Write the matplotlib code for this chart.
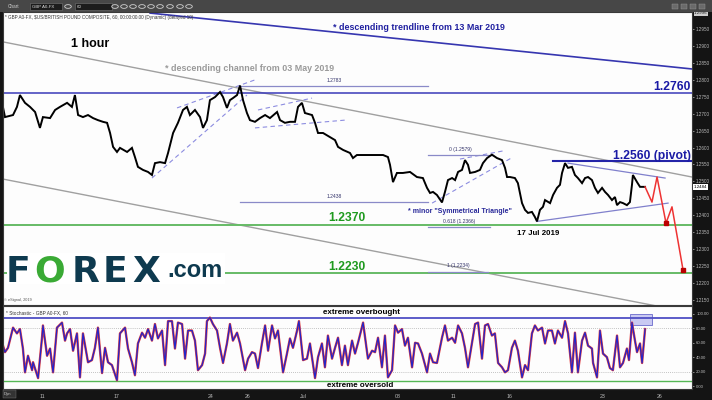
import numpy as np
import matplotlib
matplotlib.use('Agg')
import matplotlib.pyplot as plt
from matplotlib.patches import Rectangle
from matplotlib.ticker import FormatStrFormatter

plt.rcParams['font.family'] = ['Liberation Sans', 'DejaVu Sans']

# x axis = trading days counted from 11 Jun 2019 (hourly GBP/USD)
tick_days = [0, 4, 9, 11, 14, 19, 22, 25, 30, 33]
tick_labels = ['11', '17', '24', '26', 'Jul', '08', '11', '16', '23', '26']

price_day = [-2.09, -1.98, -1.55, -1.34, -1.18, -0.91, -0.64, -0.37, -0.11, 0.05,
             0.43, 0.70, 0.96, 1.34, 1.60, 1.76, 1.93, 2.19, 2.46, 2.73,
             2.99, 3.26, 3.48, 3.64, 3.80, 4.01, 4.17, 4.55, 4.81, 4.97,
             5.13, 5.40, 5.67, 5.88, 6.04, 6.31, 6.58, 6.74, 7.01, 7.27,
             7.54, 7.75, 7.91, 8.18, 8.45, 8.61, 8.82, 8.98, 9.25, 9.52,
             9.68, 9.89, 10.05, 10.21, 10.43, 10.59, 10.75, 10.96, 11.12, 11.39,
             11.66, 11.93, 12.19, 12.57, 12.73, 12.99, 13.26, 13.53, 13.69, 13.90,
             14.06, 14.44, 14.60, 14.76, 15.03, 15.40, 15.67, 15.83, 16.10, 16.47,
             16.63, 16.84, 17.17, 17.70, 18.24, 18.50, 18.61, 18.72, 18.77, 18.98,
             19.30, 19.68, 20.05, 20.37, 20.59, 20.75, 20.91, 21.12, 21.39, 21.55,
             21.71, 21.93, 22.09, 22.25, 22.46, 22.62, 22.78, 22.89, 23.16, 23.42,
             23.58, 23.80, 24.06, 24.33, 24.60, 24.76, 24.87, 25.03, 25.29, 25.45,
             25.67, 25.83, 25.99, 26.20, 26.36, 26.47, 26.63, 26.79, 26.90, 27.17,
             27.33, 27.54, 27.70, 27.81, 27.97, 28.13, 28.34, 28.50, 28.66, 28.88,
             29.04, 29.20, 29.41, 29.57, 29.73, 29.95, 30.11, 30.27, 30.48, 30.64,
             30.75, 30.91, 31.07, 31.28, 31.44, 31.55, 31.60, 31.82, 31.98, 32.25]
price_val = [1.2720, 1.2690, 1.2696, 1.2720, 1.2755, 1.2732, 1.2720, 1.2705, 1.2658, 1.2690,
             1.2687, 1.2711, 1.2720, 1.2732, 1.2720, 1.2755, 1.2696, 1.2690, 1.2696, 1.2687,
             1.2681, 1.2676, 1.2673, 1.2643, 1.2602, 1.2587, 1.2599, 1.2587, 1.2599, 1.2572,
             1.2543, 1.2534, 1.2528, 1.2519, 1.2554, 1.2557, 1.2554, 1.2584, 1.2643, 1.2673,
             1.2711, 1.2720, 1.2696, 1.2711, 1.2690, 1.2658, 1.2681, 1.2740, 1.2749, 1.2764,
             1.2749, 1.2717, 1.2740, 1.2746, 1.2755, 1.2783, 1.2740, 1.2702, 1.2681, 1.2676,
             1.2687, 1.2696, 1.2687, 1.2705, 1.2681, 1.2673, 1.2676, 1.2676, 1.2720, 1.2732,
             1.2702, 1.2696, 1.2673, 1.2643, 1.2643, 1.2631, 1.2622, 1.2602, 1.2593, 1.2584,
             1.2569, 1.2578, 1.2578, 1.2578, 1.2578, 1.2572, 1.2549, 1.2513, 1.2498, 1.2525,
             1.2525, 1.2528, 1.2513, 1.2510, 1.2481, 1.2466, 1.2469, 1.2460, 1.2438, 1.2469,
             1.2504, 1.2510, 1.2504, 1.2528, 1.2534, 1.2563, 1.2549, 1.2525, 1.2528, 1.2534,
             1.2554, 1.2569, 1.2579, 1.2569, 1.2563, 1.2540, 1.2513, 1.2513, 1.2510, 1.2495,
             1.2436, 1.2416, 1.2407, 1.2410, 1.2395, 1.2382, 1.2416, 1.2425, 1.2445, 1.2436,
             1.2460, 1.2481, 1.2490, 1.2525, 1.2554, 1.2540, 1.2543, 1.2519, 1.2510, 1.2495,
             1.2510, 1.2513, 1.2504, 1.2481, 1.2466, 1.2481, 1.2469, 1.2460, 1.2445, 1.2454,
             1.2430, 1.2439, 1.2436, 1.2430, 1.2439, 1.2490, 1.2519, 1.2498, 1.2484, 1.2484]
last_price = 1.2484

stoch_day = [-2.25, -1.98, -1.82, -1.55, -1.34, -1.18, -1.02, -0.91, -0.75, -0.53,
             -0.48, -0.21, 0.00, 0.05, 0.27, 0.43, 0.59, 0.80, 1.07, 1.23,
             1.34, 1.50, 1.66, 1.87, 2.03, 2.19, 2.46, 2.67, 2.83, 2.99,
             3.21, 3.37, 3.53, 3.74, 4.01, 4.17, 4.44, 4.60, 4.81, 4.97,
             5.13, 5.35, 5.51, 5.67, 5.88, 6.04, 6.20, 6.42, 6.58, 6.74,
             6.95, 7.11, 7.27, 7.49, 7.65, 7.81, 8.02, 8.18, 8.34, 8.56,
             8.72, 8.82, 8.98, 9.14, 9.36, 9.52, 9.68, 9.89, 10.05, 10.21,
             10.43, 10.59, 10.86, 11.02, 11.23, 11.39, 11.55, 11.76, 11.93, 12.09,
             12.30, 12.46, 12.62, 12.89, 13.10, 13.26, 13.42, 13.64, 13.74, 13.96,
             14.17, 14.33, 14.60, 14.76, 14.97, 15.13, 15.29, 15.51, 15.67, 15.83,
             16.04, 16.20, 16.36, 16.58, 16.74, 16.90, 17.17, 17.43, 17.65, 17.81,
             17.97, 18.18, 18.34, 18.50, 18.72, 18.88, 19.04, 19.25, 19.41, 19.57,
             19.79, 19.95, 20.11, 20.32, 20.59, 20.75, 20.91, 21.12, 21.39, 21.55,
             21.71, 21.93, 22.09, 22.25, 22.46, 22.62, 22.78, 22.99, 23.16, 23.32,
             23.53, 23.69, 23.85, 24.06, 24.22, 24.39, 24.60, 24.76, 24.92, 25.13,
             25.29, 25.45, 25.67, 25.83, 25.99, 26.20, 26.36, 26.52, 26.74, 26.90,
             27.06, 27.27, 27.43, 27.59, 27.81, 27.97, 28.13, 28.34, 28.50, 28.66,
             28.88, 29.04, 29.20, 29.41, 29.47, 29.68, 29.84, 30.00, 30.21, 30.37,
             30.53, 30.75, 30.91, 31.07, 31.28, 31.39, 31.55, 31.71, 31.82, 31.98,
             32.09, 32.25]
stoch_k = [70, 47, 53, 81, 73, 79, 52, 19, 42, 22,
           33, 11, 67, 84, 42, 52, 19, 81, 88, 63,
           73, 79, 49, 73, 12, 73, 33, 36, 53, 81,
           18, 53, 33, 29, 8, 73, 81, 52, 33, 15,
           59, 74, 67, 79, 63, 86, 66, 77, 29, 90,
           90, 52, 88, 86, 38, 77, 77, 63, 22, 29,
           45, 90, 95, 86, 77, 53, 32, 59, 86, 63,
           74, 59, 22, 38, 47, 45, 25, 59, 84, 49,
           84, 66, 77, 19, 45, 66, 53, 77, 90, 36,
           38, 59, 11, 40, 59, 26, 70, 38, 53, 67,
           29, 56, 29, 63, 45, 60, 88, 38, 49, 47,
           67, 26, 70, 12, 22, 84, 74, 79, 56, 67,
           26, 60, 59, 45, 19, 45, 33, 32, 67, 84,
           63, 67, 60, 84, 73, 53, 26, 59, 86, 88,
           38, 84, 86, 70, 73, 32, 26, 19, 22, 53,
           63, 49, 12, 29, 22, 73, 84, 77, 81, 59,
           77, 77, 59, 77, 67, 90, 73, 19, 74, 19,
           63, 74, 56, 52, 32, 12, 77, 45, 40, 25,
           22, 70, 26, 32, 52, 36, 88, 63, 47, 59,
           32, 79]

# analyst drawings (day, price)
trend_mar = ([5.78, 34.76], [1.2997, 1.2832])
chan_upper = ([-2.09, 34.76], [1.2912, 1.2513])
chan_lower = ([-2.09, 34.76], [1.2507, 1.2112])
wedge_low = ([5.88, 10.96], [1.2510, 1.2755])
wedge_up = ([7.22, 11.50], [1.2717, 1.2802])
flag_up = ([11.55, 14.44], [1.2711, 1.2746])
flag_low = ([11.39, 16.20], [1.2658, 1.2681])
rise_low = ([20.86, 25.19], [1.2436, 1.2572])
rise_up = ([22.35, 24.65], [1.2566, 1.2590])
tri_up = ([28.13, 33.32], [1.2554, 1.2510])
tri_low = ([26.47, 33.48], [1.2382, 1.2436])
proj_day = [32.25, 32.62, 32.89, 33.37, 33.69, 34.28]
proj_val = [1.2484, 1.2439, 1.2513, 1.2377, 1.2425, 1.2239]
fib_levels = [(10.59, 20.64, 1.2783, '1.2783'), (10.59, 20.64, 1.2438, '1.2438'),
              (20.64, 24.12, 1.2579, '0 (1.2579)'), (20.64, 23.96, 1.2366, '0.618 (1.2366)'),
              (20.64, 23.85, 1.2234, '1 (1.2234)')]
resist = 1.2760
pivot = 1.2560
supports = [1.2370, 1.2230]

W, H = 712, 400
def fx(px):
    return px / W
def fy(py):
    return 1 - py / H

fig = plt.figure(figsize=(7.12, 4.0), dpi=100, facecolor='#141414')
xlim = (-2.086, 34.76)

# top toolbar
fig.patches.append(Rectangle((0, fy(12)), 1, 12 / H, transform=fig.transFigure,
                             facecolor='#474747', edgecolor='none', zorder=0))
for x0, x1 in [(30, 62), (75, 112)]:
    fig.patches.append(Rectangle((fx(x0), fy(10)), fx(x1) - fx(x0), 7 / H, transform=fig.transFigure,
                                 facecolor='#1c1c1c', edgecolor='#777777', lw=0.4, zorder=1))
fig.text(fx(8), fy(6.5), 'Chart', fontsize=3.4, color='#cccccc', va='center')
fig.text(fx(32), fy(6.5), 'GBP A0-FX', fontsize=3.2, color='#dddddd', va='center')
fig.text(fx(77), fy(6.5), '60', fontsize=3.2, color='#dddddd', va='center')
for cx in [68, 115, 124, 133, 142, 151, 160, 170, 180, 189]:
    fig.patches.append(plt.Circle((fx(cx), fy(6.5)), 3.3 / W, transform=fig.transFigure,
                                  facecolor='none', edgecolor='#d0d0d0', lw=0.6, zorder=1))
for cx in [672, 681, 690, 699]:
    fig.patches.append(Rectangle((fx(cx), fy(9)), 6 / W, 5 / H, transform=fig.transFigure,
                                 facecolor='#6a6a6a', edgecolor='#999999', lw=0.3, zorder=1))

# price panel
ax = fig.add_axes([fx(3), fy(305), fx(692) - fx(3), (305 - 12) / H])
ax.set_facecolor('#fdfdfd')
ax.set_xlim(*xlim)
ax.set_ylim(1.21352, 1.30002)

ax.plot(*trend_mar, color='#3636b0', lw=1.2)
ax.plot(*chan_upper, color='#a0a0a0', lw=1.0)
ax.plot(*chan_lower, color='#a0a0a0', lw=1.0)
for seg in [wedge_low, wedge_up, flag_up, flag_low, rise_low, rise_up]:
    ax.plot(*seg, color='#8c8ce0', lw=0.8, ls=(0, (4, 3)))
for seg in [tri_up, tri_low]:
    ax.plot(*seg, color='#8080cc', lw=0.9)
ax.axhline(resist, color='#3a3ab8', lw=1.1)
ax.plot([27.33, xlim[1]], [pivot, pivot], color='#2424a8', lw=1.5)
for s in supports:
    ax.axhline(s, color='#66bb66', lw=1.4)
for x0, x1, lv, lab in fib_levels:
    ax.plot([x0, x1], [lv, lv], color='#8a8ac8', lw=0.9)
    ax.text((x0 + x1) / 2, lv + 0.0009, lab, fontsize=3.6, color='#33336a', ha='center', va='bottom')

ax.plot(price_day, price_val, color='black', lw=1.4, solid_joinstyle='miter')
ax.plot(proj_day, proj_val, color='#ee3333', lw=1.1)
ax.plot([proj_day[3], proj_day[5]], [proj_val[3], proj_val[5]], ls='none', marker='s',
        ms=3, color='#bb0000')

ax.text(2.57, 1.2906, '1 hour', fontsize=9, fontweight='bold', ha='center', va='center')
ax.text(15.56, 1.2953, '* descending trendline from 13 Mar 2019', fontsize=6.4, fontweight='bold',
        color='#2020a0', va='center')
ax.text(6.58, 1.2832, '* descending channel from 03 May 2019', fontsize=6.4, fontweight='bold',
        color='#9a9a9a', va='center')
ax.text(34.71, 1.2779, '1.2760', fontsize=8.7, fontweight='bold', color='#1a1aa5', ha='right', va='center')
ax.text(34.71, 1.2575, '1.2560 (pivot)', fontsize=8.7, fontweight='bold', color='#1a1aa5',
        ha='right', va='center')
ax.text(15.29, 1.2392, '1.2370', fontsize=8.7, fontweight='bold', color='#1f9a1f', va='center')
ax.text(15.29, 1.2247, '1.2230', fontsize=8.7, fontweight='bold', color='#1f9a1f', va='center')
ax.text(19.57, 1.2410, '* minor "Symmetrical Triangle"', fontsize=5, fontweight='bold',
        color='#2a2a9a', va='center')
ax.text(26.52, 1.2345, '17 Jul 2019', fontsize=5.7, fontweight='bold', ha='center', va='center')

ax.set_xticks([])
ax.yaxis.tick_right()
ax.set_yticks(np.arange(1.2150, 1.29501, 0.005))
ax.yaxis.set_major_formatter(FormatStrFormatter('%.4f'))
ax.tick_params(axis='y', colors='#bbbbbb', labelsize=3.3, length=1.5, width=0.5, pad=1.5)
ax.text(1.003, 1.2996, '1.2996', transform=ax.get_yaxis_transform(), fontsize=3.2, color='#222222',
        va='center', bbox=dict(boxstyle='square,pad=0.1', fc='#cccccc', ec='none'))
ax.text(1.003, last_price, '1.2484', transform=ax.get_yaxis_transform(), fontsize=3.2, color='black',
        va='center', bbox=dict(boxstyle='square,pad=0.15', fc='white', ec='none'))
for sp in ax.spines.values():
    sp.set_color('#3a3a3a')
    sp.set_linewidth(0.8)

# stochastic panel
ax2 = fig.add_axes([fx(3), fy(389), fx(692) - fx(3), (389 - 306) / H])
ax2.set_facecolor('#fdfdfd')
ax2.set_xlim(*xlim)
ax2.set_ylim(-4.1, 111)
for lv in [80, 20]:
    ax2.axhline(lv, color='#b0b0b0', lw=0.6, ls=(0, (1, 1.5)))
ax2.axhline(94.5, color='#4f4fc4', lw=1.3)
ax2.axhline(6.8, color='#55b855', lw=1.0)
ax2.add_patch(Rectangle((31.44, 85), 1.18, 15, facecolor='#c9c9f2', edgecolor='#6a6acc', lw=0.6))
ax2.plot(stoch_day, stoch_k, color='#e24040', lw=1.7)
ax2.plot(stoch_day, stoch_k, color='#2424c8', lw=0.9)
ax2.text(17.06, 102.5, 'extreme overbought', fontsize=5.8, fontweight='bold', ha='center', va='center')
ax2.text(17.01, 1.2, 'extreme oversold', fontsize=5.8, fontweight='bold', ha='center', va='center')
ax2.text(0.004, 0.92, '* Stochastic - GBP A0-FX, 60', transform=ax2.transAxes, fontsize=3.4,
         color='#333333', va='center')

ax2.yaxis.tick_right()
ax2.set_yticks([0, 20, 40, 60, 80, 100])
ax2.yaxis.set_major_formatter(FormatStrFormatter('%.2f'))
ax2.tick_params(axis='y', colors='#bbbbbb', labelsize=3.1, length=1.5, width=0.5, pad=1.5)
ax2.set_xticks(tick_days)
ax2.set_xticklabels(tick_labels)
ax2.tick_params(axis='x', colors='#bbbbbb', labelsize=3.8, length=0, pad=3.5)
for sp in ax2.spines.values():
    sp.set_color('#3a3a3a')
    sp.set_linewidth(0.8)

# header / footer notes
fig.text(fx(5), fy(18), r'* GBP A0-FX, \$US/BRITISH POUND COMPOSITE, 60, 00:00:00.00 (Dynamic) (delayed 10)',
         fontsize=3.3, color='#333333', va='center')
fig.text(fx(4), fy(300), '\u00a9 eSignal, 2019', fontsize=2.8, color='#555555', va='center')
fig.patches.append(Rectangle((fx(3), fy(398)), 13 / W, 8 / H, transform=fig.transFigure,
                             facecolor='#333333', edgecolor='#777777', lw=0.3, zorder=1))
fig.text(fx(4), fy(394), 'Dyn', fontsize=3.0, color='#cccccc', va='center')

# FOREX.com logo
fig.patches.append(Rectangle((fx(7), fy(284)), 218 / W, 31 / H, transform=fig.transFigure,
                             facecolor='white', edgecolor='none', zorder=5))
navy = '#0e3a4f'
for cx, ch, col in [(18, 'F', navy), (50, 'O', '#3aaa35'), (86, 'R', navy), (115, 'E', navy), (146, 'X', navy)]:
    fig.text(fx(cx), fy(282), ch, fontsize=26, fontweight='bold', family='DejaVu Sans', color=col,
             ha='center', va='baseline', zorder=6)
fig.text(fx(167), fy(277), '.com', fontsize=17, fontweight='bold', color=navy, ha='left',
         va='baseline', zorder=6)

fig.savefig('out.png', dpi=100, facecolor=fig.get_facecolor())
